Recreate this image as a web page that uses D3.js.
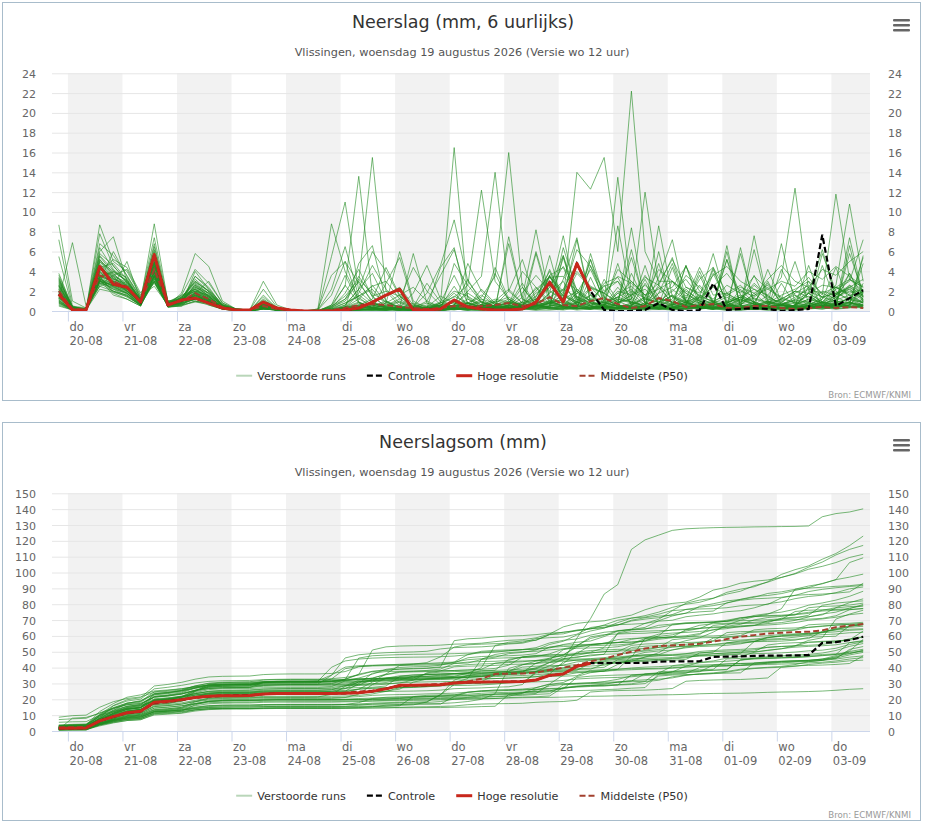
<!DOCTYPE html>
<html><head><meta charset="utf-8">
<script src="https://cdn.jsdelivr.net/npm/d3@7"></script>
<style>body{margin:0;background:#fff;}svg{font-family:"DejaVu Sans",sans-serif;}</style>
</head><body>
<svg id="c" width="926" height="825"></svg>
<script>
// ---------- DATA ----------
const dayNames = ["do","vr","za","zo","ma","di","wo","do","vr","za","zo","ma","di","wo","do"];
const dayDates = ["20-08","21-08","22-08","23-08","24-08","25-08","26-08","27-08","28-08","29-08","30-08","31-08","01-09","02-09","03-09"];
const shadedDays = [0,2,4,6,8,10,12,14];
const rateTicks = [0,2,4,6,8,10,12,14,16,18,20,22,24];
const sumTicks = [0,10,20,30,40,50,60,70,80,90,100,110,120,130,140,150];
const firstHour = -4;   // first value valid 19-08 20:00 (hours from 20-08 00:00)
const stepHours = 6;

// 6-hourly precipitation (mm) of the perturbed ensemble runs
const verstoordeRuns = [
 [2.5,0.3,0.2,3.5,4.0,3.0,1.2,4.5,0.8,1.5,2.0,1.6,0.6,0.2,0.1,0.5,0.2,0.1, 0,0,0.5, 1.2,3.5,1.5,2.0, 1.5,0.3,0.2,0.5, 2.5,0.4,0.2,0.3, 0.6,0.2,0.4,0.8, 1.2,14.0,12.3,15.5, 6.0,22.2,6.0,3.0, 3.0,1.0,0.4,0.3, 0.2,0.1,0.2,0.1, 0.1,0.1,0.3,5.8, 2.0,1.0,2.0],
 [8.7,1.0,0.3,5.0,3.5,2.0,1.0,3.0,0.5,1.0,2.5,1.5,0.3,0.1,0.1,0.3,0.1,0.0, 0,0,0.2, 0.8,1.5,2.5,3.0, 1.2,0.4,0.2,0.8, 2.0,1.5,0.6,1.0, 2.2,0.8,1.5,3.5, 2.0,4.0,2.5,1.8, 3.5,2.8,1.6,2.2, 3.0,2.0,1.2,2.5, 3.8,2.0,1.5,3.2, 4.6,3.0,2.4,4.2, 3.6,5.0,6.0],
 [1.2,6.9,0.5,2.5,3.0,2.5,0.8,4.0,1.0,1.0,1.8,3.0,0.8,0.2,0.1,0.2,0.1,0.0, 0,0,5.5, 11.0,2.0,0.8,0.5, 0.3,0.2,0.4,1.5, 0.8,0.3,0.2,0.6, 1.2,0.5,2.0,3.5, 1.5,0.8,1.2,2.5, 3.0,1.4,0.6,1.8, 2.4,4.5,2.0,1.2, 2.6,1.8,3.5,2.2, 3.0,2.5,4.0,3.2, 4.5,3.5,2.5],
 [3.0,0.5,0.1,8.7,5.0,4.0,1.5,2.5,0.6,0.8,1.2,0.9,0.2,0.1,0.0,1.6,0.3,0.1, 0,0.1,0.4, 1.0,3.0,15.5,2.0, 0.5,0.2,0.1,0.3, 0.6,0.2,0.4,1.0, 0.8,0.4,1.2,2.4, 4.5,2.2,1.0,0.6, 2.0,1.6,3.4,2.6, 1.4,0.8,3.2,4.4, 1.8,2.6,1.2,0.8, 1.6,2.2,3.0,1.8, 2.4,3.2,2.0],
 [0.8,0.2,0.1,3.0,2.2,1.5,0.6,3.6,0.4,0.6,1.0,0.8,0.2,0.1,0.0,0.3,0.1,0.0, 0,0,0, 0.2,0.5,0.8,0.4, 0.3,0.1,0.2,0.6, 1.5,0.8,0.4,0.2, 0.5,1.8,3.6,2.0, 1.2,3.8,2.4,1.0, 4.2,3.0,1.6,2.8, 5.2,2.4,1.8,3.6, 4.5,3.0,2.2,1.6, 3.4,12.4,2.0,1.4, 2.6,10.8,3.0],
 [2.2,0.1,0.1,6.0,7.5,3.0,1.2,6.5,1.0,1.2,1.5,1.0,0.4,0.1,0.1,0.5,0.2,0.1, 0,0,0.3, 0.8,1.5,2.2,0.6, 1.0,0.4,0.2,0.8, 16.5,1.2,0.4,0.8, 0.5,0.3,0.6,1.0, 0.4,1.5,0.8,0.6, 1.8,2.5,1.2,0.9, 2.0,3.2,1.4,1.0, 1.6,2.4,1.8,0.6, 1.2,2.0,1.8,2.6, 2.4,1.6,1.9],
 [1.5,0.2,0.1,3.0,2.5,5.0,1.0,3.5,0.6,1.8,5.8,4.5,1.0,0.2,0.1,0.4,0.2,0.1, 0,0,0.2, 0.4,0.6,0.3,0.2, 0.1,0.1,0.2,0.3, 0.6,2.0,3.5,14.0, 2.0,0.8,0.4,3.6, 0.5,2.2,1.2,0.8, 1.4,3.0,1.6,1.0, 0.6,1.2,4.4,1.6, 1.8,0.9,1.4,2.4, 1.0,1.6,0.8,0.5, 0.6,0.4,0.9],
 [0.6,0.1,0.0,3.5,1.8,1.2,0.5,3.8,0.4,0.5,1.0,0.6,0.2,0.0,0.0,0.2,0.1,0.0, 0,0,0, 0.1,0.2,0.5,1.0, 0.4,0.3,0.1,0.2, 0.5,0.8,1.4,3.5, 16.0,2.4,0.6,3.4, 1.8,6.2,4.5,2.0, 3.0,0.6,1.4,4.2, 3.0,1.8,0.8,0.5, 5.2,1.6,0.9,0.4, 0.6,1.2,2.4,1.4, 1.0,0.8,0.6],
 [7.2,0.5,0.3,3.5,3.0,2.0,0.8,4.0,0.7,1.4,2.2,1.2,0.4,0.2,0.1,3.0,0.6,0.1, 0,0.2,8.8, 4.0,1.2,0.6,0.3, 0.2,0.1,0.1,0.2, 0.4,0.8,1.6,0.6, 0.3,0.8,1.2,3.0, 1.6,0.9,2.4,1.8, 0.8,1.2,3.6,1.4, 0.6,2.2,1.0,0.8, 1.4,0.6,1.8,2.6, 1.2,2.0,1.4,0.8, 1.6,2.4,1.2],
 [2.8,0.4,0.2,4.2,3.2,2.8,1.0,8.8,0.9,1.0,1.6,1.0,0.3,0.1,0.1,0.6,0.2,0.1, 0,0,0.6, 2.5,13.6,1.5,0.4, 0.3,0.2,0.1,0.1, 0.2,0.3,0.2,0.4, 1.0,0.6,0.3,0.8, 2.2,1.4,0.8,2.8, 3.4,1.0,0.5,0.8, 1.6,0.9,0.4,0.3, 0.8,1.4,2.2,1.2, 0.9,1.8,2.6,1.4, 1.8,2.4,3.2],
 [1.0,0.2,0.1,3.2,2.6,2.2,0.7,3.6,0.5,0.8,3.5,2.4,0.5,0.1,0.0,0.4,0.1,0.0, 0,0,0, 0.2,0.4,0.9,1.6, 2.4,0.6,0.3,0.8, 1.4,2.6,12.2,3.0, 1.2,0.5,0.3,0.9, 0.6,1.8,1.0,0.4, 0.8,2.0,1.3,0.6, 1.0,2.4,1.6,0.9, 0.5,1.2,2.8,1.5, 0.7,1.1,0.8,2.0, 1.6,3.2,2.4],
 [5.5,0.3,0.1,4.0,2.5,1.8,0.6,4.8,0.8,1.2,1.0,0.8,0.2,0.1,0.0,0.2,0.1,0.0, 0,0,0, 0.5,1.8,4.6,2.2, 0.8,0.3,0.2,0.4, 0.6,0.4,0.2,0.3, 0.5,0.9,2.2,3.4, 3.5,2.0,1.0,2.6, 0.8,1.6,2.6,1.2, 0.9,0.6,1.4,2.4, 1.6,0.8,0.5,1.0, 0.6,1.4,2.2,1.8, 1.2,2.6,1.4],
 [1.8,0.2,0.1,7.8,4.5,3.2,1.1,5.0,0.7,1.0,1.8,1.2,0.4,0.1,0.0,0.8,0.2,0.0, 0,0,0.1, 0.3,0.6,0.4,0.2, 0.1,0.4,0.8,0.5, 0.3,0.2,0.6,1.2, 0.9,0.4,0.7,3.6, 4.4,1.2,0.6,1.0, 13.5,1.8,0.6,2.4, 0.8,0.5,0.3,0.6, 1.0,1.6,0.9,0.4, 0.3,0.6,1.2,0.8, 0.5,0.4,0.6],
 [2.0,0.2,0.1,3.0,6.0,3.5,1.4,2.8,0.5,0.9,1.4,1.0,0.3,0.1,0.0,0.4,0.1,0.0, 0,0,0, 0.2,0.4,0.3,0.6, 1.2,4.4,2.0,0.6, 0.4,0.3,0.5,0.9, 1.4,0.6,0.4,1.1, 0.8,0.5,2.3,1.8, 0.9,1.2,12.0,2.6, 0.7,0.4,0.6,1.0, 0.8,1.4,0.6,0.3, 0.6,0.9,1.5,0.8, 1.1,1.6,0.9],
 [0.9,0.1,0.1,2.8,2.0,1.6,0.5,3.2,0.6,0.7,4.0,2.2,0.6,0.1,0.0,0.3,0.1,0.0, 0,0,0, 0,0.1,0.2,0.1, 0.3,0.8,0.4,0.2, 0.1,0.3,0.6,0.4, 0.2,0.5,1.8,2.6, 1.0,0.6,0.3,0.9, 1.4,2.2,0.8,0.5, 1.2,3.6,2.4,0.9, 1.8,1.0,2.6,1.4, 0.8,2.0,3.4,1.6, 11.8,3.2,2.4],
 [3.4,0.3,0.2,5.5,3.8,2.4,1.0,6.2,0.8,1.1,2.6,1.5,0.4,0.1,0.1,0.9,0.3,0.1, 0,0,0.5, 1.5,3.2,1.8,0.9, 0.4,0.2,0.3,0.6, 1.0,0.8,0.4,0.3, 0.6,0.5,0.8,1.4, 2.2,4.8,1.6,0.8, 0.5,0.3,0.6,1.2, 0.9,0.6,0.4,0.2, 0.5,1.1,0.7,0.4, 0.3,0.6,1.8,0.9, 0.6,0.4,0.5],
 [1.4,0.2,0.1,3.6,3.0,2.0,0.8,4.4,0.6,0.9,1.5,1.0,0.3,0.1,0.0,0.5,0.1,0.0, 0,0,0, 0.6,2.2,6.0,4.0, 1.5,0.5,0.3,0.2, 0.4,0.6,1.0,0.5, 0.3,0.4,0.6,0.8, 1.2,2.0,0.9,0.5, 0.8,1.6,2.2,0.9, 0.6,1.4,0.8,0.3, 0.5,0.9,1.6,2.2, 1.4,0.8,0.6,0.9, 1.8,1.2,0.6],
 [2.6,0.2,0.1,4.8,3.4,2.6,0.9,5.0,0.7,1.3,3.2,2.0,0.5,0.1,0.1,1.2,0.3,0.1, 0,0,0, 0.1,0.2,0.4,0.8, 1.6,2.4,1.0,0.4, 0.3,0.2,0.1,0.2, 0.4,0.6,1.4,4.0, 0.9,0.5,0.3,0.6, 1.2,0.8,0.4,0.3, 3.0,1.8,1.0,0.4, 0.7,0.4,0.9,2.8, 0.8,0.5,0.6,1.2, 2.4,1.6,0.8],
 [1.1,0.1,0.1,3.4,2.0,1.4,0.6,3.6,0.4,0.6,0.9,0.7,0.2,0.1,0.0,0.2,0.1,0.0, 0,0,0, 0,0.1,0.2,0.1, 0.2,0.4,1.8,4.6, 9.2,3.0,1.2,0.8, 0.6,4.0,2.4,1.0, 0.5,0.8,1.6,0.4, 0.3,0.6,1.2,0.9, 1.5,0.8,0.4,0.6, 0.9,1.2,0.7,0.4, 0.5,0.8,1.0,0.6, 0.4,0.8,0.3],
 [3.2,0.4,0.2,4.0,5.2,4.4,1.8,3.8,0.9,1.6,2.2,1.4,0.5,0.1,0.1,0.7,0.2,0.1, 0,0,0, 0.1,0.3,0.8,0.4, 0.2,0.1,0.3,0.2, 0.5,1.2,0.6,0.3, 0.2,0.9,6.0,1.4, 0.7,0.4,0.3,0.6, 1.0,5.4,0.8,0.4, 0.3,0.5,1.2,0.8, 0.4,0.3,0.6,1.0, 0.7,0.4,0.6,1.4, 1.8,2.2,1.0],
 [1.6,0.2,0.1,3.8,2.8,2.2,0.8,4.6,0.6,1.0,1.7,1.2,0.3,0.1,0.0,0.3,0.1,0.0, 0,0.1,1.6, 5.0,2.8,1.0,0.3, 0.2,0.1,0.1,0.2, 0.4,0.8,0.5,0.3, 0.9,0.6,1.2,0.8, 1.6,0.7,0.4,0.5, 1.8,0.9,0.5,0.3, 0.4,0.8,1.6,0.9, 0.6,0.4,0.3,0.8, 1.2,0.9,0.5,0.4, 0.6,1.4,0.8],
 [2.1,0.3,0.1,5.2,3.6,2.6,1.0,6.8,0.8,1.2,2.0,1.3,0.4,0.1,0.1,0.6,0.2,0.0, 0,0,0, 0.2,0.1,0.3,0.5, 0.9,0.4,0.2,0.1, 0.2,0.5,0.9,0.4, 0.3,0.2,0.6,1.8, 7.6,1.2,0.5,0.3, 0.4,0.8,0.6,0.2, 0.3,0.9,1.4,0.6, 0.4,0.3,0.5,0.8, 0.6,0.4,0.3,0.5, 1.4,2.2,1.2],
 [0.7,0.1,0.1,3.3,2.4,1.8,0.7,3.0,0.5,0.7,1.2,0.9,0.3,0.1,0.0,0.4,0.1,0.0, 0,0,0, 0.4,1.2,2.6,0.8, 0.3,0.2,0.1,0.2, 0.6,1.8,0.9,0.4, 0.2,0.5,0.8,2.4, 5.6,1.4,0.6,0.4, 1.2,0.9,0.5,0.3, 0.6,1.1,0.8,0.5, 0.4,0.7,1.3,0.9, 0.6,0.4,0.5,0.8, 1.6,2.6,1.8],
 [2.9,0.3,0.2,6.4,4.2,3.0,1.1,5.4,0.7,1.4,2.8,1.8,0.6,0.2,0.1,1.0,0.3,0.1, 0,0,0, 0.1,0.2,0.1,0.3, 0.6,0.2,0.1,0.1, 0.2,0.4,0.3,0.2, 0.3,0.5,0.9,0.6, 0.4,0.3,4.6,0.9, 0.5,0.3,0.2,0.4, 0.6,0.9,0.5,0.3, 0.4,0.6,0.3,0.2, 0.3,0.5,0.8,0.4, 1.2,2.4,1.6],
 [1.3,0.2,0.1,2.9,2.2,1.8,0.6,3.4,0.5,0.8,1.3,0.9,0.3,0.1,0.0,0.3,0.1,0.0, 0,0,0, 0,0,0.1,0, 0,0.1,0,0, 4.8,2.6,0.9,0.5, 0.1,0.2,0.1,0.3, 0.4,1.2,0.8,0.6, 1.4,0.9,0.5,0.4, 0.8,1.6,1.0,0.6, 0.9,1.4,0.7,0.5, 0.6,1.1,1.8,0.9, 2.4,1.8,2.2],
 [2.4,0.2,0.1,4.4,3.3,2.5,0.9,5.3,0.7,1.1,1.9,1.2,0.4,0.1,0.0,0.6,0.2,0.0, 0,0,0, 0.3,0.8,0.5,0.2, 0.1,0.3,0.6,0.4, 0.2,0.1,0.3,0.5, 0.8,0.4,0.2,0.3, 0.6,0.9,0.5,0.3, 0.2,0.4,0.8,0.5, 0.3,0.6,3.6,0.7, 0.4,0.3,0.5,0.9, 0.6,0.4,0.3,0.5, 1.4,2.0,1.6],
 [1.9,0.2,0.1,3.4,3.9,3.1,1.0,4.1,0.6,1.0,2.4,1.8,0.5,0.1,0.0,0.5,0.1,0.0, 0,0,0.3, 1.8,4.2,1.4,0.5, 0.2,0.1,0.1,0.2, 0.3,0.2,0.1,0.2, 0.4,0.3,0.5,0.8, 0.5,0.3,0.2,0.4, 0.6,0.4,0.3,0.2, 0.4,0.7,0.5,0.3, 0.2,0.4,0.6,0.4, 0.3,0.5,0.4,0.6, 0.9,1.2,0.8],
 [0.5,0.1,0.0,3.2,1.6,1.2,0.5,3.5,0.4,0.5,1.8,0.6,0.2,0.0,0.0,0.2,0.1,0.0, 0,0,0, 0,0.1,0,0.1, 0.1,0,0.1,0, 0.2,0.1,0.3,0.2, 7.5,1.2,0.6,0.4, 1.8,0.9,0.5,0.3, 0.4,0.6,1.4,0.8, 2.2,1.1,0.6,0.4, 0.8,1.4,0.9,0.5, 0.3,0.6,1.2,0.8, 0.6,0.9,0.4],
 [3.6,0.4,0.2,4.6,3.1,2.3,0.9,4.9,0.7,1.2,3.5,2.2,0.7,0.2,0.1,2.2,0.4,0.1, 0,0,0, 0.1,0.2,0.1,0.1, 0.3,0.2,0.1,0.1, 0.2,0.1,0.1,0.2, 0.3,0.5,0.4,0.2, 0.1,0.3,3.4,0.5, 0.3,0.2,0.1,0.2, 0.4,0.5,0.3,0.2, 0.1,0.2,0.4,0.3, 0.2,0.3,0.5,0.4, 0.8,1.2,0.9],
 [1.7,0.2,0.1,3.1,2.6,2.0,0.8,3.9,0.6,0.9,1.6,1.1,0.3,0.1,0.0,0.4,0.1,0.0, 0,0,0, 0,0.1,0.2,0.1, 0.1,0,0.1,0, 0.2,0.1,0,0.1, 0.3,0.2,0.1,0.1, 0.2,0.3,0.2,0.1, 0.2,0.1,0.3,0.2, 0.1,0.2,0.4,0.2, 0.1,0.1,0.2,0.3, 0.2,0.1,0.2,0.3, 0.5,0.6,0.4],
 [2.3,0.3,0.1,4.0,3.2,2.6,1.0,5.0,0.7,1.2,2.2,1.4,0.4,0.1,0.1,0.7,0.2,0.1, 0,0,0.4, 2.6,0.8,0.3,0.2, 0.4,1.8,4.6,1.2, 0.3,0.2,0.6,3.8, 1.0,0.4,0.2,0.5, 6.4,2.0,0.5,0.3, 0.2,0.8,3.2,0.6, 0.3,0.2,1.4,5.8, 0.9,0.3,0.2,0.4, 2.8,0.6,0.3,1.2, 4.4,0.8,0.4],
 [1.4,0.2,0.1,2.6,3.6,4.2,1.6,3.0,0.6,1.4,3.0,2.0,0.6,0.1,0.0,0.3,0.1,0.0, 0,0,0, 0.3,4.8,6.6,1.0, 0.2,0.1,0.4,0.9, 3.6,0.8,0.3,0.2, 0.5,2.4,0.6,0.3, 0.2,0.9,5.2,1.4, 0.4,0.2,0.6,3.4, 7.2,1.0,0.3,0.2, 0.4,2.2,0.8,0.3, 0.2,0.5,4.6,0.8, 0.3,0.6,1.2],
 [3.8,0.4,0.2,5.8,4.6,2.8,1.1,6.0,0.9,1.0,1.5,1.0,0.3,0.1,0.1,1.4,0.3,0.1, 0,0,0.2, 0.4,0.9,0.3,2.8, 5.4,0.7,0.2,0.1, 0.6,3.2,0.8,0.3, 0.2,0.4,0.9,4.2, 1.2,0.3,0.2,0.6, 2.4,0.7,0.3,0.2, 0.4,4.6,1.0,0.3, 0.2,0.3,0.8,3.0, 0.6,0.2,0.3,0.5, 1.6,3.8,0.9],
 [0.9,0.1,0.1,3.0,2.3,1.7,0.6,3.3,0.5,0.7,1.6,1.1,0.3,0.1,0.0,0.3,0.1,0.0, 0,0,0, 0.1,0.2,0.6,0.3, 0.2,0.1,0.3,4.4, 6.4,0.6,0.2,0.1, 0.3,0.2,5.8,0.8, 0.3,0.1,0.2,0.4, 0.6,8.4,0.8,0.2, 0.1,0.3,0.6,0.4, 6.0,0.5,0.2,0.1, 0.2,0.6,1.8,0.4, 0.3,6.6,1.0],
 [2.0,0.2,0.1,4.6,3.3,2.4,0.9,5.4,0.8,1.6,4.2,2.8,0.8,0.2,0.1,0.8,0.2,0.1, 0,0.1,2.2, 6.5,1.4,0.3,0.2, 0.1,0.2,0.1,0.3, 0.6,0.4,2.2,0.8, 0.3,0.2,0.5,1.8, 3.0,0.5,0.2,0.4, 8.6,1.2,0.4,0.3, 0.2,0.6,2.6,1.0, 0.3,0.2,0.4,0.6, 1.2,5.0,0.8,0.3, 0.2,0.4,2.8],
 [1.2,0.2,0.1,3.4,2.7,2.1,0.8,4.0,0.6,0.8,1.2,0.8,0.2,0.1,0.0,0.5,0.1,0.0, 0,0,0, 0,0.2,0.1,0.2, 0.3,0.6,0.2,0.1, 0.2,0.5,1.2,0.4, 0.2,0.1,0.6,5.6, 0.6,0.2,0.4,0.3, 0.2,0.5,4.6,0.6, 0.3,0.2,0.4,0.8, 0.2,6.4,0.6,0.2, 0.3,0.2,0.5,0.9, 0.6,7.4,1.4],
 [2.7,0.3,0.2,5.0,4.0,3.4,1.2,4.6,0.7,1.1,2.6,1.8,0.5,0.1,0.1,0.6,0.2,0.1, 0,0,0.1, 0.3,0.6,1.2,4.4, 1.6,0.3,0.2,0.1, 0.2,0.4,0.3,0.6, 2.0,5.2,1.0,0.4, 0.3,0.2,0.6,0.9, 0.4,0.3,0.2,1.8, 4.8,0.9,0.3,0.2, 0.4,0.8,3.6,0.7, 0.3,0.2,0.4,0.6, 0.8,0.5,0.3],
 [1.6,0.2,0.1,2.8,2.4,1.8,0.7,3.2,0.5,0.9,1.8,1.2,0.4,0.1,0.0,0.4,0.1,0.0, 0,0,0, 0.2,0.1,0.3,0.2, 0.1,0.2,0.1,0.3, 0.2,0.1,0.3,0.2, 0.6,0.3,0.2,0.5, 5.4,0.9,0.3,0.2, 0.1,0.3,0.6,4.8, 0.6,0.3,0.2,0.4, 0.3,0.2,6.2,0.8, 0.4,0.3,0.2,0.6, 0.5,5.8,1.8],
 [3.1,0.4,0.2,6.8,5.6,3.6,1.3,7.4,1.0,1.3,2.0,1.4,0.4,0.1,0.1,0.9,0.3,0.1, 0,0,0.3, 1.2,3.0,0.8,0.4, 0.2,0.3,1.0,3.6, 6.2,1.4,0.4,0.3, 0.2,0.6,2.4,0.6, 0.4,1.8,4.2,1.2, 0.6,0.3,0.5,2.6, 5.4,0.8,0.3,0.2, 0.6,1.2,0.5,0.3, 4.2,1.6,0.5,0.3, 0.6,0.8,5.4],
 [0.8,0.1,0.1,2.2,1.9,1.5,0.6,2.9,0.5,0.6,1.4,0.9,0.3,0.1,0.0,0.2,0.1,0.0, 0,0,0, 0.1,0.1,0.2,0.1, 0.2,0.3,0.1,0.2, 0.3,0.8,0.4,0.2, 0.1,0.2,0.6,0.3, 0.2,0.8,5.2,0.6, 0.3,0.2,0.1,0.4, 0.6,4.6,0.5,0.3, 0.2,0.1,0.4,0.6, 6.8,0.8,0.3,0.2, 0.4,0.6,4.8],
 [2.2,0.2,0.1,3.9,3.0,2.3,0.9,4.7,0.7,1.0,2.4,1.6,0.5,0.1,0.0,0.7,0.2,0.0, 0,0,0, 0.4,1.6,0.6,0.3, 0.2,0.1,0.2,0.6, 1.8,0.5,0.3,4.4, 1.2,0.3,0.2,0.8, 0.5,0.3,0.2,3.2, 1.0,0.4,0.3,0.5, 0.2,0.6,4.0,0.9, 0.3,0.2,0.6,1.6, 0.5,0.3,2.4,0.6, 0.3,0.6,5.6],
 [1.8,0.2,0.1,4.4,4.8,3.2,1.1,3.8,0.6,1.2,2.9,2.0,0.6,0.1,0.0,0.5,0.1,0.0, 0,0,0.6, 3.6,0.9,0.3,0.2, 0.1,0.4,2.8,0.9, 0.3,0.2,0.4,0.3, 6.8,1.2,0.4,0.2, 0.3,0.5,1.6,0.6, 0.2,3.8,0.9,0.3, 0.4,0.2,0.3,0.8, 5.2,0.6,0.2,0.3, 0.2,0.6,3.0,0.5, 0.2,0.3,0.6],
 [2.5,0.3,0.1,3.2,2.8,2.4,0.9,5.8,0.8,1.0,1.7,1.1,0.3,0.1,0.0,0.6,0.2,0.0, 0,0,0, 0.2,0.5,0.3,0.1, 0.2,0.1,0.2,0.4, 0.9,0.3,0.2,0.4, 0.3,1.4,8.2,1.2, 0.4,0.2,0.3,0.6, 4.8,0.5,0.3,0.2, 0.4,0.9,0.3,0.2, 0.6,0.4,7.6,1.0, 0.3,0.2,0.4,4.6, 0.9,0.4,0.3],
 [1.0,0.1,0.1,2.5,2.0,1.6,0.6,3.0,0.5,0.7,1.2,0.8,0.2,0.1,0.0,0.3,0.1,0.0, 0,0,0, 0.3,0.1,0.2,0.1, 0.4,5.8,0.8,0.2, 0.2,0.3,0.6,0.4, 0.2,0.2,0.5,0.3, 1.2,7.2,0.8,0.4, 0.3,0.2,0.4,0.6, 4.4,0.5,0.2,0.3, 0.4,0.3,0.2,0.5, 0.6,0.4,0.3,0.8, 1.0,3.8,1.4],
 [3.3,0.3,0.2,5.2,3.7,2.7,1.0,5.6,0.8,1.3,3.0,2.0,0.6,0.2,0.1,1.1,0.3,0.1, 0,0.2,3.6, 5.0,0.9,0.3,0.2, 0.4,0.3,0.2,0.5, 0.4,4.8,2.0,0.6, 0.3,0.2,0.4,1.0, 0.5,0.3,5.8,1.4, 0.4,0.3,0.2,0.6, 1.6,0.4,0.3,3.8, 0.9,0.3,0.2,0.4, 0.6,0.5,1.8,6.2, 1.4,0.8,0.6],
 [1.5,0.2,0.1,3.5,2.9,2.2,0.8,4.2,0.6,0.9,1.9,1.3,0.4,0.1,0.0,0.4,0.1,0.0, 0,0,0, 0.2,0.4,0.8,0.3, 0.2,0.1,0.3,0.2, 0.3,0.6,0.4,0.3, 0.4,0.2,0.6,0.4, 0.3,0.6,0.4,0.2, 0.8,6.2,0.6,0.3, 0.2,0.4,0.6,4.2, 0.7,0.3,0.2,0.4, 0.6,0.3,0.4,0.9, 2.2,3.0,7.2],
 [2.6,0.3,0.1,4.3,3.5,2.9,1.1,4.8,0.7,1.1,2.1,1.5,0.4,0.1,0.1,0.8,0.2,0.1, 0,0,0, 0.4,0.3,0.2,0.8, 6.0,1.0,0.3,0.2, 0.3,0.4,0.6,0.3, 0.2,0.4,0.8,0.3, 3.2,7.4,1.0,0.4, 0.3,0.2,0.4,0.6, 0.4,0.3,0.8,4.4, 0.6,0.3,0.2,0.4, 0.8,0.4,0.3,0.4, 0.6,0.9,0.5],
 [1.1,0.1,0.1,3.1,2.5,1.9,0.7,3.6,0.5,0.8,2.7,1.7,0.5,0.1,0.0,0.3,0.1,0.0, 0,0,0.1, 0.2,0.4,0.3,0.2, 0.1,0.2,0.4,0.3, 0.2,0.3,0.2,0.6, 0.4,0.3,0.2,0.6, 0.4,0.3,0.2,0.4, 0.3,0.6,0.4,8.6, 1.4,0.4,0.3,0.2, 0.6,5.8,0.8,0.3, 0.4,0.3,0.6,0.4, 0.8,0.6,1.8],
 [2.0,0.2,0.1,5.6,4.1,2.9,1.0,4.4,0.7,1.0,1.6,1.1,0.3,0.1,0.0,0.6,0.2,0.0, 0,0,0.2, 0.6,2.2,3.8,1.0, 0.3,0.2,0.4,0.6, 0.8,0.4,0.2,0.3, 0.6,2.8,0.6,0.3, 0.2,0.4,0.8,0.3, 0.6,0.4,2.8,0.7, 0.3,0.2,0.5,0.4, 0.3,0.6,0.4,4.2, 1.0,0.4,0.3,0.2, 0.4,0.6,2.2],
 [1.3,0.2,0.1,3.0,2.6,2.0,0.8,3.4,0.6,0.9,2.3,1.5,0.4,0.1,0.0,0.4,0.1,0.0, 0,0,0, 0.1,0.2,0.1,0.3, 0.2,0.1,0.2,0.1, 0.3,0.2,0.1,0.2, 0.4,0.3,0.6,0.4, 5.6,0.5,0.3,0.2, 0.6,0.4,0.3,6.0, 0.3,0.6,0.4,0.2, 6.6,0.3,0.2,0.4, 0.2,0.3,0.8,0.6, 0.4,0.9,0.6]
];

// control run (6-hourly mm)
const controle = [1.7,0.1,0.1,4.5,2.7,2.4,0.9,5.7,0.6,1.1,1.3,0.8,0.3,0.1,0.1,0.9,0.3,0.1, 0,0,0, 0.1,0.3,0.9,1.6, 2.2,0.1,0.1,0.2, 1.1,0.4,0.2,0.1, 0.1,0.2,0.9,2.9, 0.9,4.8,2.0,0.1, 0,0,0.1,0.8, 0.1,0,0.1,2.8, 0.1,0.2,0.3,0.2, 0,0.1,0.2,7.7, 0.5,1.3,2.1];
// high resolution run (6-hourly mm, up to +240h)
const hogeResolutie = [1.7,0.1,0.1,4.5,2.7,2.4,0.9,5.7,0.6,1.1,1.3,0.8,0.3,0.1,0.1,0.9,0.3,0.1, 0,0,0, 0.1,0.3,0.9,1.6, 2.2,0.1,0.1,0.2, 1.1,0.4,0.2,0.1, 0.1,0.2,0.9,2.9, 0.9,4.8,2.0];
// median (P50) of 6-hourly amounts
const middelsteRate = [2.0,0.2,0.1,3.6,3.0,2.4,0.9,4.2,0.7,1.0,1.8,1.2,0.4,0.1,0.1,0.5,0.2,0.1, 0,0,0.1, 0.3,0.6,0.7,0.6, 0.4,0.3,0.2,0.3, 0.5,0.4,0.5,0.6, 0.8,0.5,0.7,1.4, 0.6,0.5,1.0,1.3, 0.7,0.3,0.5,1.3, 1.0,0.4,0.6,0.7, 0.3,0.3,0.5,0.5, 0.3,0.2,0.3,0.4, 0.3,0.4,0.3];
// median (P50) of accumulated amounts
const middelsteSom = [2.2,2.4,2.5,6.2,9.0,11.2,12.4,17.2,18.2,19.4,21.0,22.0,22.4,22.6,22.7,23.3,23.5,23.6, 23.6,23.7,23.9, 24.2,24.8,25.6,26.8, 28.2,28.8,29.2,29.6, 30.5,31.2,33.0,36.0, 36.2,36.3,36.8,38.5, 40.0,41.5,44.0,45.5, 48.0,50.0,52.0,53.5, 54.0,54.5,55.0,56.5, 58.0,59.5,60.5,61.5, 62.0,62.5,62.6,63.5, 65.5,66.5,67.5];

const subtitle = "Vlissingen, woensdag 19 augustus 2026 (Versie wo 12 uur)";

// ---------- DRAW ----------
const svg = d3.select("#c");
const cum = a => Array.from(d3.cumsum(a));
const hourOf = i => firstHour + i * stepHours;

const PL = 52, PR = 870;
const x = d3.scaleLinear().domain([-7, 353]).range([PL, PR]);

const GREEN = "#1f8a1f", RED = "#c8281c", BROWN = "#a3402e";

function panel(oy, cfg, idx) {
  const g = svg.append("g");
  const top = 73.3 + oy, bottom = 311 + oy;
  const y = d3.scaleLinear().domain([0, cfg.max]).range([bottom, top]);

  g.append("rect").attr("x", 2.5).attr("y", 2.5 + oy).attr("width", 918).attr("height", 398)
    .attr("fill", "#fff").attr("stroke", "#a8bccb").attr("stroke-width", 1);

  g.append("text").attr("x", 463).attr("y", 28 + oy).attr("text-anchor", "middle")
    .attr("font-size", 17.5).attr("fill", "#333").text(cfg.title);
  g.append("text").attr("x", 462).attr("y", 55.5 + oy).attr("text-anchor", "middle")
    .attr("font-size", 11.3).attr("fill", "#555").text(subtitle);

  // menu icon
  [19, 24, 29].forEach(yy => g.append("rect").attr("x", 893).attr("y", yy + oy).attr("width", 17)
    .attr("height", 2.4).attr("rx", 1).attr("fill", "#666"));

  // shaded days
  g.selectAll(".band").data(shadedDays).enter().append("rect")
    .attr("x", d => x(d * 24)).attr("y", top)
    .attr("width", d => Math.min(x(d * 24 + 24), PR) - x(d * 24))
    .attr("height", bottom - top).attr("fill", "#f2f2f2");

  // grid
  g.selectAll(".grid").data(cfg.ticks).enter().append("line")
    .attr("x1", PL).attr("x2", PR).attr("y1", d => y(d) + 0.5).attr("y2", d => y(d) + 0.5)
    .attr("stroke", "#e6e6e6");

  // y axes
  const yl = g.append("g").attr("transform", `translate(${PL},0.5)`)
    .call(d3.axisLeft(y).tickValues(cfg.ticks).tickSize(0).tickPadding(16));
  const yr = g.append("g").attr("transform", `translate(${PR},0.5)`)
    .call(d3.axisRight(y).tickValues(cfg.ticks).tickSize(0).tickPadding(18));
  [yl, yr].forEach(a => {
    a.select(".domain").remove();
    a.selectAll("text").attr("font-size", 11).attr("fill", "#666").attr("font-family", "DejaVu Sans");
  });

  // series
  const clipId = "clip" + idx;
  svg.append("clipPath").attr("id", clipId).append("rect")
    .attr("x", PL).attr("y", top - 5).attr("width", PR - PL).attr("height", bottom - top + 6);
  const sg = g.append("g").attr("clip-path", `url(#${clipId})`);
  const line = d3.line().x((d, i) => x(hourOf(i))).y(d => y(d));

  sg.selectAll(".run").data(cfg.runs).enter().append("path")
    .attr("d", line).attr("fill", "none").attr("stroke", GREEN)
    .attr("stroke-opacity", 0.6).attr("stroke-width", 1);
  sg.append("path").attr("d", line(cfg.p50)).attr("fill", "none").attr("stroke", BROWN)
    .attr("stroke-width", 2).attr("stroke-dasharray", "6,3");
  sg.append("path").attr("d", line(cfg.ctrl)).attr("fill", "none").attr("stroke", "#000")
    .attr("stroke-width", 2.2).attr("stroke-dasharray", "6,3");
  sg.append("path").attr("d", line(cfg.hres)).attr("fill", "none").attr("stroke", RED)
    .attr("stroke-width", 3).attr("stroke-linejoin", "round");

  // x axis
  const xa = g.append("g").attr("transform", `translate(0,${bottom + 0.5})`)
    .call(d3.axisBottom(x).tickValues(dayNames.map((d, i) => i * 24)).tickSize(10).tickFormat(""));
  xa.select(".domain").attr("stroke", "#ccd6eb").attr("d", `M${PL},0H${PR}`);
  xa.selectAll(".tick line").attr("stroke", "#ccd6eb");
  const lab = g.selectAll(".xl").data(dayNames).enter().append("text")
    .attr("font-size", 11.5).attr("fill", "#666");
  lab.append("tspan").attr("x", (d, i) => x(i * 24) + 1.5).attr("y", 330.7 + oy).text(d => d);
  lab.append("tspan").attr("x", (d, i) => x(i * 24) + 1.5).attr("y", 344.5 + oy).text((d, i) => dayDates[i]);

  // legend
  const items = [
    { name: "Verstoorde runs", color: "#b9d6b9", w: 2, dash: null },
    { name: "Controle", color: "#000", w: 2.2, dash: "6,3" },
    { name: "Hoge resolutie", color: RED, w: 3, dash: null },
    { name: "Middelste (P50)", color: BROWN, w: 2, dash: "6,3" }
  ];
  const lg = g.append("g");
  const ly = 375.7 + oy;
  const texts = items.map(it => lg.append("text").attr("font-size", 11.2).attr("fill", "#333")
    .attr("y", ly + 4).text(it.name));
  const widths = texts.map(t => t.node().getComputedTextLength());
  const total = d3.sum(widths) + items.length * 21 + (items.length - 1) * 21;
  let cx = 462 - total / 2;
  items.forEach((it, i) => {
    lg.append("line").attr("x1", cx).attr("x2", cx + 16).attr("y1", ly).attr("y2", ly)
      .attr("stroke", it.color).attr("stroke-width", it.w).attr("stroke-dasharray", it.dash);
    texts[i].attr("x", cx + 21);
    cx += 21 + widths[i] + 21;
  });

  g.append("text").attr("x", 911).attr("y", 398 + oy).attr("text-anchor", "end")
    .attr("font-size", 8.6).attr("fill", "#999").text("Bron: ECMWF/KNMI");
}

panel(0, {
  title: "Neerslag (mm, 6 uurlijks)", max: 24, ticks: rateTicks,
  runs: verstoordeRuns, p50: middelsteRate, ctrl: controle, hres: hogeResolutie
}, 1);
panel(420, {
  title: "Neerslagsom (mm)", max: 150, ticks: sumTicks,
  runs: verstoordeRuns.map(cum), p50: middelsteSom, ctrl: cum(controle), hres: cum(hogeResolutie)
}, 2);
</script>
</body></html>
